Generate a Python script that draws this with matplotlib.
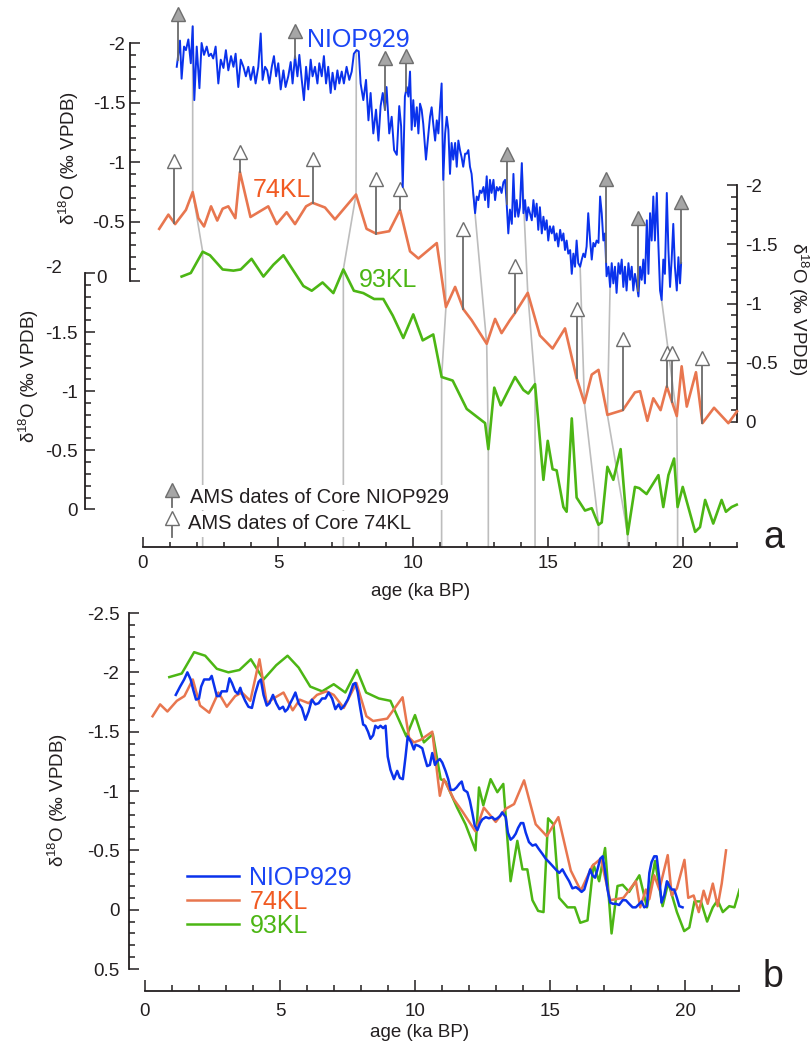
import numpy as np
import matplotlib
matplotlib.use('Agg')
import matplotlib.pyplot as plt
from matplotlib.ticker import FixedLocator, FuncFormatter
from matplotlib.transforms import blended_transform_factory

# %% Set-up
plt.rcParams['font.family'] = 'Liberation Sans'
plt.rcParams['mathtext.fontset'] = 'custom'
plt.rcParams['mathtext.rm'] = 'Liberation Sans'
plt.rcParams['mathtext.it'] = 'Liberation Sans:italic'
plt.rcParams['axes.unicode_minus'] = False

# %% Data (ka BP, per mil VPDB)

# --- panel a: original age models ---
niop_a_age = [1.25, 1.37, 1.43, 1.52, 1.59, 1.68, 1.77, 1.84, 1.90, 1.99,
              2.09, 2.17, 2.26, 2.36, 2.44, 2.52, 2.60, 2.69, 2.79, 2.88,
              2.98, 3.07, 3.16, 3.26, 3.35, 3.43, 3.53, 3.62, 3.72, 3.81,
              3.90, 3.99, 4.09, 4.17, 4.27, 4.36, 4.43, 4.52, 4.60, 4.68,
              4.77, 4.85, 4.93, 5.01, 5.10, 5.20, 5.28, 5.38, 5.47, 5.54,
              5.63, 5.72, 5.79, 5.88, 5.96, 6.04, 6.12, 6.21, 6.28, 6.37,
              6.46, 6.53, 6.62, 6.70, 6.78, 6.86, 6.95, 7.02, 7.11, 7.20,
              7.27, 7.36, 7.44, 7.54, 7.64, 7.73, 7.81, 7.91, 7.99, 8.06,
              8.16, 8.26, 8.35, 8.43, 8.53, 8.63, 8.72, 8.80, 8.88, 8.96,
              9.02, 9.12, 9.21, 9.30, 9.40, 9.49, 9.56, 9.62,
              9.70, 9.77, 9.83, 9.89, 9.95, 10.01, 10.07, 10.14, 10.20, 10.26,
              10.32, 10.38, 10.48, 10.57, 10.63, 10.69, 10.75, 10.82, 10.88, 10.94,
              11.00, 11.06, 11.12, 11.19, 11.25, 11.31, 11.37, 11.43, 11.49, 11.56,
              11.62, 11.68, 11.74, 11.80, 11.86, 11.93, 11.99, 12.05, 12.11, 12.17,
              12.23, 12.30, 12.36, 12.42, 12.48, 12.54, 12.61, 12.67, 12.73, 12.79,
              12.85, 12.91, 12.98, 13.04, 13.10, 13.16, 13.22, 13.28, 13.35, 13.41,
              13.47, 13.53, 13.59, 13.66, 13.72, 13.78, 13.84, 13.90, 13.96, 14.03,
              14.09, 14.15, 14.21, 14.27, 14.33, 14.40, 14.46, 14.52, 14.58, 14.64,
              14.70, 14.77, 14.83, 14.89, 14.95, 15.01, 15.07, 15.14, 15.20, 15.26,
              15.32, 15.38, 15.45, 15.51, 15.57, 15.63, 15.69, 15.75, 15.82, 15.88,
              15.94, 16.00, 16.06, 16.12, 16.19, 16.25, 16.31, 16.37, 16.43, 16.49,
              16.56, 16.62, 16.68, 16.74, 16.80, 16.87, 16.93, 16.99, 17.05, 17.11,
              17.17, 17.24, 17.30, 17.36, 17.42, 17.48, 17.54, 17.61, 17.67, 17.73,
              17.79, 17.85, 17.91, 17.98, 18.04, 18.10, 18.16, 18.22, 18.28, 18.35,
              18.41, 18.47, 18.53, 18.59, 18.66, 18.72, 18.78, 18.84, 18.90, 18.96,
              19.03, 19.09, 19.15, 19.21, 19.27, 19.33, 19.40, 19.46, 19.52, 19.58,
              19.64, 19.70, 19.77, 19.83, 19.89, 19.93]
niop_a_val = [-1.80, -2.02, -1.70, -1.97, -1.94, -2.03, -1.83, -2.14, -1.52, -1.97,
              -1.62, -2.00, -1.90, -1.97, -1.89, -1.91, -1.87, -1.97, -1.66, -1.86,
              -1.79, -1.94, -1.77, -1.89, -1.80, -1.91, -1.63, -1.86, -1.80, -1.72,
              -1.80, -1.69, -1.80, -1.66, -1.80, -2.08, -1.69, -1.80, -1.77, -1.66,
              -1.80, -1.89, -1.72, -1.83, -1.61, -1.77, -1.63, -1.72, -1.84, -1.66,
              -1.89, -1.72, -1.90, -1.69, -1.52, -1.80, -1.61, -1.86, -1.72, -1.80,
              -1.66, -1.83, -1.72, -1.89, -1.66, -1.80, -1.58, -1.75, -1.61, -1.77,
              -1.66, -1.76, -1.66, -1.80, -1.69, -1.76, -1.91, -1.94, -1.93, -1.66,
              -1.52, -1.69, -1.35, -1.58, -1.24, -1.44, -1.18, -1.47, -1.58, -1.44,
              -1.63, -1.24, -1.38, -1.10, -1.06, -1.47, -1.30, -0.79,
              -1.55, -1.63, -1.55, -1.76, -1.27, -1.52, -1.30, -1.46, -1.24, -1.49,
              -1.44, -1.32, -1.02, -1.24, -1.38, -1.46, -1.32, -1.18, -1.35, -1.24,
              -1.46, -1.66, -0.85, -1.24, -1.38, -1.27, -0.90, -1.16, -1.02, -1.16,
              -0.96, -1.18, -1.10, -1.04, -0.96, -1.07, -1.07, -1.10, -0.96, -0.90,
              -0.74, -0.57, -0.71, -0.68, -0.76, -0.74, -0.79, -0.68, -0.88, -0.62,
              -0.85, -0.74, -0.85, -0.68, -0.79, -0.76, -0.79, -0.74, -0.83, -0.85,
              -0.65, -0.40, -0.60, -0.48, -0.90, -0.54, -0.68, -0.54, -0.62, -0.99,
              -0.57, -0.68, -0.51, -0.62, -0.57, -0.51, -0.68, -0.54, -0.65, -0.43,
              -0.62, -0.40, -0.54, -0.43, -0.51, -0.34, -0.46, -0.40, -0.46, -0.34,
              -0.40, -0.29, -0.43, -0.34, -0.40, -0.26, -0.34, -0.23, -0.26, -0.06,
              -0.23, -0.12, -0.34, -0.15, -0.12, -0.18, -0.23, -0.20, -0.29, -0.57,
              -0.34, -0.18, -0.32, -0.29, -0.34, -0.32, -0.71, -0.57, -0.34, -0.40,
              -0.04, -0.12, 0.05, -0.15, 0.02, -0.12, 0.10, -0.15, -0.06, -0.18,
              0.05, -0.12, 0.08, -0.15, -0.01, -0.12, 0.08, -0.06, 0.02, 0.13,
              -0.12, -0.01, -0.18, 0.02, -0.51, -0.06, -0.57, -0.34, -0.71, -0.34,
              -0.74, -0.29, 0.08, 0.16, -0.18, -0.06, -0.74, -0.26, 0.05, -0.18,
              -0.48, -0.12, 0.08, -0.20, 0.02, -0.15]

kl74_a_age = [0.60, 0.94, 1.19, 1.59, 1.84, 2.05, 2.26, 2.52, 2.75, 2.95,
              3.16, 3.42, 3.59, 3.98, 4.64, 4.95, 5.32, 5.63, 6.04, 6.28,
              6.74, 7.11, 7.89, 8.28, 8.63, 9.12, 9.52, 9.89, 10.20, 10.88,
              11.22, 11.56, 11.87, 12.17, 12.73, 13.04, 13.28, 13.59, 13.78, 14.25,
              14.70, 15.17, 15.63, 16.06, 16.35, 16.62, 16.87, 17.20, 17.77, 18.22,
              18.41, 18.68, 18.90, 19.17, 19.40, 19.77, 19.95, 20.14, 20.48, 20.72,
              21.15, 21.68, 22.00]
kl74_a_val = [-1.63, -1.75, -1.67, -1.79, -1.94, -1.72, -1.65, -1.82, -1.70, -1.80,
              -1.82, -1.72, -2.11, -1.73, -1.82, -1.67, -1.77, -1.67, -1.82, -1.85,
              -1.81, -1.71, -1.92, -1.63, -1.59, -1.61, -1.79, -1.44, -1.38, -1.51,
              -0.97, -1.14, -0.95, -0.86, -0.66, -0.87, -0.75, -0.86, -0.92, -1.09,
              -0.73, -0.62, -0.79, -0.37, -0.16, -0.40, -0.44, -0.06, -0.10, -0.25,
              -0.26, -0.01, -0.20, -0.10, -0.30, -0.05, -0.47, -0.13, -0.42, 0.01,
              -0.12, 0.01, -0.09]

kl93_a_age = [1.43, 1.77, 2.21, 2.48, 2.95, 3.35, 3.62, 4.02, 4.46, 4.83,
              5.20, 5.94, 6.25, 6.65, 7.05, 7.42, 7.81, 8.16, 8.56, 8.90,
              9.25, 9.64, 10.01, 10.36, 10.75, 11.06, 11.47, 11.99, 12.67, 12.79,
              13.01, 13.25, 13.78, 14.09, 14.27, 14.52, 14.83, 14.99, 15.17, 15.32,
              15.57, 15.69, 15.88, 16.06, 16.37, 16.62, 16.87, 16.99, 17.20, 17.42,
              17.69, 17.95, 18.22, 18.38, 18.65, 19.09, 19.27, 19.46, 19.67, 19.80,
              19.99, 20.45, 20.63, 20.82, 21.12, 21.43, 21.59, 21.80, 21.99]
kl93_a_val = [-1.97, -2.00, -2.18, -2.15, -2.03, -2.02, -2.03, -2.12, -1.97, -2.07,
              -2.15, -1.89, -1.85, -1.92, -1.83, -2.03, -1.85, -1.83, -1.78, -1.78,
              -1.64, -1.45, -1.65, -1.43, -1.48, -1.12, -1.09, -0.85, -0.73, -0.51,
              -1.03, -0.88, -1.12, -1.01, -0.98, -1.06, -0.25, -0.58, -0.34, -0.33,
              -0.02, 0.02, -0.77, -0.10, 0.01, -0.01, 0.13, 0.11, -0.36, -0.25,
              -0.51, 0.21, -0.19, -0.18, -0.13, -0.29, -0.02, -0.29, -0.43, -0.02,
              -0.19, 0.19, 0.15, -0.08, 0.12, -0.08, 0.02, -0.02, -0.04]

# AMS dates (age, level of arrow head)
niop_ams_age = [1.28, 5.64, 8.96, 9.74, 13.47, 17.15, 18.32, 19.93]
niop_ams_head = [-2.24, -2.10, -1.87, -1.89, -1.07, -0.86, -0.53, -0.66]
kl74_ams_age = [1.16, 3.59, 6.28, 8.63, 9.52, 11.86, 13.78, 16.06, 17.77, 19.41, 19.59, 20.72]
kl74_ams_head = [-2.20, -2.28, -2.22, -2.05, -1.97, -1.63, -1.32, -0.95, -0.70, -0.58, -0.58, -0.54]

# tie points between the three records
tie_niop = [1.84, 7.90, 11.13, 12.23, 14.03, 16.19, 17.30, 19.20]
tie_74 = [1.84, 7.89, 11.22, 12.73, 14.25, 16.35, 17.20, 19.77]
tie_93 = [2.21, 7.42, 11.06, 12.79, 14.52, 16.87, 17.95, 19.80]

# --- panel b: common age model ---
niop_b_age = [1.14, 1.30, 1.45, 1.57, 1.69, 1.79, 1.89, 2.00, 2.08, 2.19,
              2.29, 2.39, 2.47, 2.57, 2.66, 2.76, 2.84, 2.93, 3.03, 3.13,
              3.22, 3.34, 3.44, 3.53, 3.61, 3.71, 3.83, 3.96, 4.08, 4.21,
              4.29, 4.39, 4.51, 4.61, 4.74, 4.86, 4.98, 5.11, 5.19, 5.28,
              5.38, 5.47, 5.57, 5.69, 5.81, 5.94, 6.06, 6.18, 6.31, 6.43,
              6.56, 6.68, 6.80, 6.93, 7.05, 7.17, 7.26, 7.38, 7.51, 7.61,
              7.71, 7.79, 7.88, 7.98, 8.08, 8.16, 8.26, 8.35, 8.45, 8.53,
              8.63, 8.72, 8.82, 8.91, 8.99, 9.09, 9.22, 9.34, 9.44, 9.55,
              9.65, 9.73, 9.86, 9.96, 10.02, 10.14, 10.27, 10.35, 10.45, 10.55,
              10.64, 10.74, 10.82, 10.92, 11.01, 11.13, 11.23, 11.32, 11.44, 11.54,
              11.64, 11.73, 11.81, 11.94, 12.03, 12.12, 12.21, 12.31, 12.41, 12.49,
              12.62, 12.74, 12.86, 12.95, 13.05, 13.15, 13.23, 13.36, 13.44, 13.54,
              13.64, 13.73, 13.82, 13.92, 14.01, 14.10, 14.22, 14.35, 14.47, 14.59,
              14.72, 14.84, 14.97, 15.09, 15.21, 15.34, 15.46, 15.58, 15.71, 15.83,
              15.96, 16.08, 16.17, 16.27, 16.36, 16.49, 16.57, 16.67, 16.76, 16.86,
              16.95, 17.03, 17.13, 17.23, 17.33, 17.44, 17.56, 17.69, 17.81, 17.93,
              18.06, 18.18, 18.31, 18.39, 18.49, 18.59, 18.68, 18.76, 18.86, 18.95,
              19.05, 19.13, 19.23, 19.33, 19.42, 19.51, 19.60, 19.70, 19.79, 19.91]
niop_b_val = [-1.81, -1.88, -1.94, -2.00, -1.94, -1.85, -1.77, -1.78, -1.88, -1.94,
              -1.94, -1.94, -1.97, -1.88, -1.80, -1.80, -1.84, -1.84, -1.84, -1.95,
              -1.91, -1.84, -1.82, -1.87, -1.81, -1.76, -1.71, -1.70, -1.82, -1.92,
              -1.94, -1.81, -1.72, -1.74, -1.81, -1.74, -1.69, -1.71, -1.67, -1.69,
              -1.74, -1.78, -1.83, -1.74, -1.70, -1.60, -1.67, -1.77, -1.73, -1.74,
              -1.78, -1.78, -1.83, -1.78, -1.69, -1.73, -1.69, -1.72, -1.77, -1.83,
              -1.90, -1.91, -1.83, -1.69, -1.56, -1.55, -1.50, -1.44, -1.47, -1.55,
              -1.53, -1.55, -1.53, -1.55, -1.29, -1.18, -1.10, -1.17, -1.11, -1.10,
              -1.29, -1.46, -1.41, -1.35, -1.39, -1.38, -1.36, -1.29, -1.21, -1.22,
              -1.32, -1.22, -1.25, -1.27, -1.24, -1.17, -1.10, -1.01, -1.01, -1.03,
              -1.06, -1.08, -1.01, -0.99, -0.92, -0.82, -0.71, -0.67, -0.73, -0.76,
              -0.78, -0.77, -0.78, -0.76, -0.77, -0.79, -0.82, -0.78, -0.65, -0.59,
              -0.61, -0.64, -0.69, -0.73, -0.73, -0.65, -0.57, -0.54, -0.55, -0.51,
              -0.47, -0.43, -0.40, -0.37, -0.34, -0.31, -0.34, -0.29, -0.24, -0.18,
              -0.19, -0.17, -0.15, -0.17, -0.24, -0.34, -0.29, -0.27, -0.34, -0.43,
              -0.45, -0.34, -0.17, -0.06, -0.05, -0.05, -0.04, -0.08, -0.08, -0.05,
              -0.02, -0.02, -0.05, -0.07, -0.02, -0.03, -0.31, -0.40, -0.45, -0.45,
              -0.26, -0.06, -0.12, -0.24, -0.20, -0.17, -0.17, -0.10, -0.03, -0.02]

kl74_b_age = [0.28, 0.56, 0.83, 1.18, 1.46, 1.77, 2.04, 2.38, 2.72, 3.03,
              3.34, 3.59, 3.90, 4.24, 4.51, 4.76, 5.13, 5.47, 5.73, 6.06,
              6.37, 6.72, 6.99, 7.36, 7.83, 8.20, 8.45, 8.97, 9.54, 9.78,
              9.96, 10.20, 10.64, 10.92, 11.07, 11.44, 11.75, 12.24, 12.55, 12.99,
              13.36, 13.67, 14.04, 14.47, 14.88, 15.31, 15.77, 16.14, 16.57, 16.88,
              17.23, 17.72, 18.18, 18.34, 18.55, 18.68, 18.86, 19.05, 19.36, 19.51,
              19.70, 19.98, 20.12, 20.32, 20.51, 20.69, 20.84, 21.03, 21.21, 21.36,
              21.52]
kl74_b_val = [-1.63, -1.73, -1.67, -1.76, -1.80, -1.94, -1.72, -1.66, -1.83, -1.71,
              -1.80, -1.83, -1.76, -2.11, -1.74, -1.78, -1.83, -1.68, -1.77, -1.74,
              -1.81, -1.84, -1.81, -1.70, -1.91, -1.63, -1.59, -1.61, -1.79, -1.45,
              -1.41, -1.43, -1.50, -0.96, -1.10, -0.93, -0.83, -0.66, -0.86, -0.74,
              -0.85, -0.89, -1.09, -0.72, -0.62, -0.78, -0.33, -0.16, -0.37, -0.43,
              -0.08, -0.10, -0.24, -0.02, -0.17, -0.09, -0.29, -0.17, -0.46, -0.12,
              -0.18, -0.42, -0.10, -0.12, 0.02, -0.16, -0.05, -0.22, -0.03, -0.22,
              -0.50]

kl93_b_age = [0.90, 1.36, 1.82, 2.23, 2.66, 3.09, 3.50, 3.92, 4.39, 4.86,
              5.28, 5.69, 6.12, 6.56, 6.99, 7.42, 7.85, 8.19, 8.66, 9.09,
              9.68, 10.00, 10.33, 10.66, 10.95, 11.13, 11.56, 11.87, 12.24, 12.37,
              12.53, 12.80, 13.05, 13.27, 13.54, 13.79, 13.98, 14.16, 14.35, 14.56,
              14.76, 14.93, 15.13, 15.34, 15.65, 15.92, 16.12, 16.39, 16.61, 16.82,
              17.04, 17.28, 17.50, 17.69, 17.93, 18.31, 18.59, 18.89, 19.17, 19.38,
              19.70, 19.97, 20.16, 20.35, 20.59, 20.82, 21.03, 21.21, 21.40, 21.64,
              21.83, 22.02]
kl93_b_val = [-1.96, -1.99, -2.17, -2.14, -2.03, -2.00, -2.02, -2.11, -1.94, -2.06,
              -2.14, -2.04, -1.88, -1.84, -1.90, -1.83, -2.02, -1.83, -1.78, -1.76,
              -1.46, -1.64, -1.41, -1.48, -1.10, -1.08, -0.86, -0.72, -0.50, -1.03,
              -0.88, -1.10, -0.99, -1.06, -0.24, -0.58, -0.34, -0.34, -0.08, 0.01,
              0.02, -0.77, -0.72, -0.10, -0.02, -0.02, 0.11, 0.09, -0.38, -0.24,
              -0.52, 0.20, -0.20, -0.21, -0.15, -0.29, -0.02, -0.41, -0.03, -0.23,
              0.02, 0.18, 0.15, -0.07, -0.07, 0.10, -0.02, -0.08, 0.02, -0.03,
              -0.02, -0.17]

# %% Styles
INK = '#231f20'
C_NIOP = '#0a32ec'
C_74 = '#e8764f'
C_93 = '#4cb614'
T_NIOP = '#1a45f5'
T_74 = '#f15a22'
T_93 = '#4cb614'
C_TIE = '#bdbdbd'
C_STEM = '#6b6b6b'
YLAB = r'δ$^{18}$O (‰ VPDB)'
TICK_FS = 13.5

W, H = 812, 1046
fig = plt.figure(figsize=(W / 100, H / 100), dpi=100)
fig.patch.set_facecolor('white')


def px_axes(left, top, right, bottom):
    ax = fig.add_axes([left / W, 1 - bottom / H, (right - left) / W, (bottom - top) / H])
    ax.patch.set_visible(False)
    for s in ax.spines.values():
        s.set_visible(False)
    ax.tick_params(axis='x', which='both', bottom=False, top=False, labelbottom=False)
    ax.tick_params(axis='y', which='both', left=False, right=False, labelleft=False)
    return ax


def make_fmt(skip=None):
    def fmt(v, pos):
        if skip is not None and abs(v - skip) < 1e-9:
            return ''
        return '0' if abs(v) < 1e-9 else '%g' % v
    return FuncFormatter(fmt)


def style_y(ax, side, lo, hi, pad, skip=None):
    sp = ax.spines[side]
    sp.set_visible(True)
    sp.set_bounds(lo, hi)
    sp.set_linewidth(1.3)
    sp.set_color(INK)
    ax.yaxis.set_ticks_position(side)
    ax.yaxis.set_major_locator(FixedLocator(np.round(np.arange(lo, hi + 1e-6, 0.5), 2)))
    ax.yaxis.set_minor_locator(FixedLocator(np.round(np.arange(lo, hi + 1e-6, 0.1), 2)))
    ax.yaxis.set_major_formatter(make_fmt(skip))
    kw = dict(axis='y', which='both', direction='in', color=INK, labelcolor=INK,
              labelsize=TICK_FS, pad=pad, width=1.1)
    if side == 'left':
        ax.tick_params(left=True, labelleft=True, right=False, labelright=False, **kw)
    else:
        ax.tick_params(right=True, labelright=True, left=False, labelleft=False, **kw)
    ax.tick_params(axis='y', which='major', length=7)
    ax.tick_params(axis='y', which='minor', length=4)


def style_x(ax, pad, major_len):
    sp = ax.spines['bottom']
    sp.set_visible(True)
    sp.set_bounds(0, 22)
    sp.set_linewidth(1.3)
    sp.set_color(INK)
    ax.xaxis.set_major_locator(FixedLocator([0, 5, 10, 15, 20]))
    ax.xaxis.set_minor_locator(FixedLocator(np.arange(0, 23, 1)))
    ax.tick_params(axis='x', which='both', direction='in', bottom=True, labelbottom=True,
                   color=INK, labelcolor=INK, labelsize=TICK_FS, pad=pad, width=1.1)
    ax.tick_params(axis='x', which='major', length=major_len)
    ax.tick_params(axis='x', which='minor', length=major_len / 2)


# %% Panel a
ax93 = px_axes(85, 273, 737, 547)
ax74 = px_axes(85, 185, 737, 422)
axn = px_axes(85, 43, 737, 281)
for ax in (ax93, ax74, axn):
    ax.set_xlim(-58 / 27, 22)
ax93.set_ylim(34 / 118 + 0.03, -2)
ax74.set_ylim(0, -2)
axn.set_ylim(0, -2)

# the two crowded labels ('-2' of 93KL and '0' of NIOP929) sit shifted in the original
style_y(ax93, 'left', -2, 0, 5, skip=-2)
style_y(ax74, 'right', -2, 0, 6)
style_y(axn, 'left', -2, 0, 3.5, skip=0)
axn.spines['left'].set_position(('data', -13 / 27))
style_x(ax93, 6, 7)
ax93.text(-0.035, -2.04, '-2', transform=blended_transform_factory(ax93.transAxes, ax93.transData),
          ha='right', va='center', fontsize=TICK_FS, color=INK)
axn.text(0.034, -0.02, '0', transform=blended_transform_factory(axn.transAxes, axn.transData),
         ha='right', va='center', fontsize=TICK_FS, color=INK)

ax93.set_xlabel('age (ka BP)', fontsize=13.5, color=INK)
ax93.xaxis.set_label_coords(0.515, -0.132)
axn.set_ylabel(YLAB, fontsize=13.5, color=INK)
axn.yaxis.set_label_coords(-0.006, 0.517)
ax93.set_ylabel(YLAB, fontsize=13.5, color=INK)
ax93.yaxis.set_label_coords(-0.068, 0.624)
ax74.yaxis.set_label_position('right')
ax74.set_ylabel(YLAB, fontsize=13.5, color=INK, rotation=270)
ax74.yaxis.label.set_va('bottom')
ax74.yaxis.set_label_coords(1.075, 0.475)

# records
ax93.plot(kl93_a_age, kl93_a_val, color=C_93, lw=1.9, clip_on=False, zorder=3)
ax74.plot(kl74_a_age, kl74_a_val, color=C_74, lw=1.9, clip_on=False, zorder=3)
axn.plot(niop_a_age, niop_a_val, color=C_NIOP, lw=1.4, clip_on=False, zorder=3)

# tie lines, drawn through each record's own axes
ybot = ax93.get_ylim()[0]
for a_n, a_74, a_93 in zip(tie_niop, tie_74, tie_93):
    pts = [axn.transData.transform((a_n, np.interp(a_n, niop_a_age, niop_a_val))),
           ax74.transData.transform((a_74, np.interp(a_74, kl74_a_age, kl74_a_val))),
           ax93.transData.transform((a_93, np.interp(a_93, kl93_a_age, kl93_a_val))),
           ax93.transData.transform((a_93, ybot))]
    pts = ax93.transData.inverted().transform(np.array(pts))
    ax93.plot(pts[:, 0], pts[:, 1], color=C_TIE, lw=1.2, zorder=1, clip_on=False)

# AMS date arrows
for age, head in zip(niop_ams_age, niop_ams_head):
    base = np.interp(age, niop_a_age, niop_a_val)
    axn.plot([age, age], [base, head], color=C_STEM, lw=1.3, clip_on=False, zorder=4)
    axn.plot([age], [head], ls='none', marker='^', ms=9.5, mfc='#a6a6a6', mec='#6e6e6e',
             mew=1.0, clip_on=False, zorder=5)
for age, head in zip(kl74_ams_age, kl74_ams_head):
    base = np.interp(age, kl74_a_age, kl74_a_val)
    ax74.plot([age, age], [base, head], color=C_STEM, lw=1.3, clip_on=False, zorder=4)
    ax74.plot([age], [head], ls='none', marker='^', ms=9.5, mfc='white', mec='#6e6e6e',
              mew=1.0, clip_on=False, zorder=5)

# record names
axn.text(6.07, -1.97, 'NIOP929', color=T_NIOP, fontsize=18, va='baseline')
ax74.text(4.07, -1.90, '74KL', color=T_74, fontsize=18, va='baseline')
ax93.text(7.98, -1.88, '93KL', color=T_93, fontsize=18, va='baseline')

# legend of the arrows
box = dict(boxstyle='square,pad=0.15', fc='white', ec='none')
ax93.text(0.161, 0.179, 'AMS dates of Core NIOP929', transform=ax93.transAxes,
          fontsize=14.5, color=INK, va='center', bbox=box, zorder=6)
ax93.text(0.158, 0.084, 'AMS dates of Core 74KL', transform=ax93.transAxes,
          fontsize=14.5, color=INK, va='center', bbox=box, zorder=6)
ax93.plot([0.1334, 0.1334], [0.146, 0.208], color=C_STEM, lw=1.3, transform=ax93.transAxes, zorder=7)
ax93.plot([0.1334], [0.208], marker='^', ms=9.5, mfc='#a6a6a6', mec='#6e6e6e', mew=1.0,
          transform=ax93.transAxes, zorder=8)
ax93.plot([0.1334, 0.1334], [0.036, 0.106], color=C_STEM, lw=1.3, transform=ax93.transAxes, zorder=7)
ax93.plot([0.1334], [0.106], marker='^', ms=9.5, mfc='white', mec='#6e6e6e', mew=1.0,
          transform=ax93.transAxes, zorder=8)

ax93.text(1.04, -0.004, 'a', transform=ax93.transAxes, fontsize=27, color=INK, va='baseline')

# %% Panel b
axb = px_axes(129, 613, 739, 991)
axb.set_xlim(-16 / 27, 22)
axb.set_ylim(0.5 + 22 / 119, -2.5)
style_y(axb, 'left', -2.5, 0.5, 7)
style_x(axb, 8.5, 8)
axb.set_xlabel('age (ka BP)', fontsize=13.5, color=INK)
axb.xaxis.set_label_coords(0.476, -0.088)
axb.set_ylabel(YLAB, fontsize=13.5, color=INK)
axb.yaxis.set_label_coords(-0.096, 0.505)

l93, = axb.plot(kl93_b_age, kl93_b_val, color=C_93, lw=1.8)
l74, = axb.plot(kl74_b_age, kl74_b_val, color=C_74, lw=1.8)
ln, = axb.plot(niop_b_age, niop_b_val, color=C_NIOP, lw=1.8)

leg = axb.legend([ln, l74, l93], ['NIOP929', '74KL', '93KL'], loc='upper left',
                 bbox_to_anchor=((187 - 129) / 610, (991 - 866) / 378), frameon=False,
                 fontsize=18, handlelength=2.1, handletextpad=0.4, labelspacing=0.0,
                 borderpad=0, borderaxespad=0)
for t, c in zip(leg.get_texts(), [T_NIOP, T_74, T_93]):
    t.set_color(c)

axb.text(1.038, 0.011, 'b', transform=axb.transAxes, fontsize=27, color=INK, va='baseline')

fig.savefig('out.png', dpi=100, facecolor='white')
